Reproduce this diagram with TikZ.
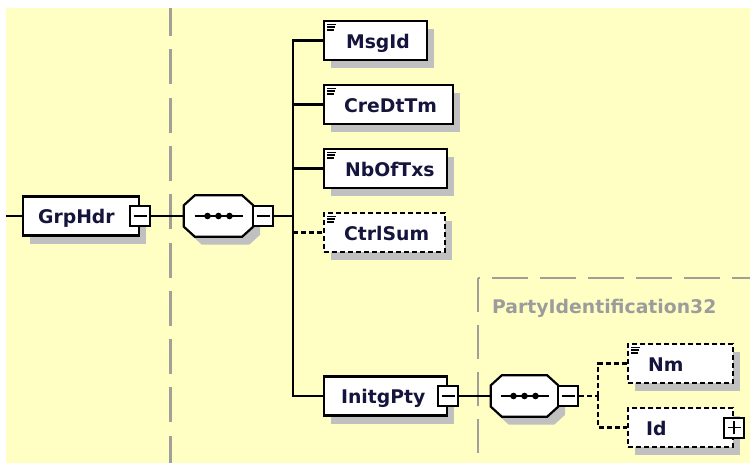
\documentclass[tikz,border=0pt]{standalone}
\usepackage{fontspec}
\setmainfont{DejaVu Sans}
\usetikzlibrary{shadows}
\definecolor{bgyellow}{HTML}{FFFFC4}
\definecolor{shadowgray}{HTML}{C0C0C0}
\definecolor{regiongray}{HTML}{A0A098}
\definecolor{elemtext}{HTML}{14143C}
\definecolor{labelgray}{HTML}{9C9C9C}
\newcommand{\xsdicon}[1]{\draw[line width=1.5pt] ([shift={(4,4.5)}]#1.north west) -- ++(9,0) ([shift={(4,7.3)}]#1.north west) -- ++(8,0) ([shift={(4,10.1)}]#1.north west) -- ++(7,0);}
\newcommand{\octpath}[1]{([shift={(11,0)}]#1.north west) -- ([shift={(-11,0)}]#1.north east) -- ([shift={(0,10)}]#1.north east) -- ([shift={(0,-10)}]#1.south east) -- ([shift={(-11,0)}]#1.south east) -- ([shift={(11,0)}]#1.south west) -- ([shift={(0,-10)}]#1.south west) -- ([shift={(0,10)}]#1.north west) -- cycle}
\newcommand{\seqdraw}[1]{%
  \fill[shadowgray, transform canvas={xshift=7pt, yshift=-8pt}] \octpath{#1};
  \filldraw[fill=white, draw=black, line width=2.2pt, line join=miter] \octpath{#1};
  \draw[line width=2pt] ([xshift=-24pt]#1.center) -- ([xshift=24pt]#1.center);
  \foreach \dx in {-11,0,11} \fill[black] ([xshift=\dx pt]#1.center) circle (3.3pt);}
\begin{document}
\begin{tikzpicture}[x=1pt,y=-1pt,
  every node/.style={font=\fontsize{18.8}{20}\selectfont\bfseries},
  boxshadow/.style={drop shadow={shadow xshift=7pt, shadow yshift=-8pt, fill=shadowgray, opacity=1}},
  elem/.style 2 args={rectangle, draw=black, fill=white, line width=2.2pt, minimum height=39pt, inner ysep=0pt, inner xsep=#2pt, text width=#1pt, align=left, text height=18pt, text depth=3pt, text=elemtext, anchor=west, boxshadow},
  optelem/.style 2 args={elem={#1}{#2}, dash pattern=on 5pt off 3pt},
  seq/.style={rectangle, draw=none, fill=none, minimum width=69pt, minimum height=41pt, inner sep=0pt},
  btn/.style={rectangle, draw=black, fill=white, line width=2pt, minimum width=20pt, minimum height=20pt, inner sep=0pt},
  minusbtn/.style={btn, path picture={\draw[black, line width=1.8pt] ([xshift=-6.5pt]path picture bounding box.center) -- ([xshift=6.5pt]path picture bounding box.center);}},
  plusbtn/.style={btn, path picture={\draw[black, line width=1.8pt] ([xshift=-6.5pt]path picture bounding box.center) -- ([xshift=6.5pt]path picture bounding box.center) ([yshift=-6.5pt]path picture bounding box.center) -- ([yshift=6.5pt]path picture bounding box.center);}},
  conn/.style={draw=black, line width=2.1pt},
  dconn/.style={conn, dash pattern=on 5pt off 3pt},
  regionline/.style={draw=regiongray, line width=2.2pt}
]
\useasboundingbox (0,0) rectangle (750,463);
\fill[white] (0,0) rectangle (750,463);
\fill[bgyellow] (6,8) rectangle (750,463);
% region lines
\draw[regionline, dash pattern=on 35pt off 13.3pt, dash phase=7pt] (170.5,8) -- (170.5,463);
\draw[regionline, dash pattern=on 34pt off 13pt] (478,278) -- (478,463);
\draw[regionline, dash pattern=on 36pt off 12pt, dash phase=34pt] (478,278) -- (750,278);
\node[text=labelgray, anchor=base west, inner sep=0pt] (ptylabel) at (492,313) {PartyIdentification32};
% nodes
\coordinate (in) at (6,216);
\node[elem={86}{15}] (grp) at (22,216) {GrpHdr};
\node[minusbtn] (grpb) at (grp.east) {};
\node[seq] (seq1) at (218.5,216) {};
\seqdraw{seq1}
\node[minusbtn] (seq1b) at ([xshift=10pt]seq1.east) {};
\coordinate (j1) at (293,216);
\node[elem={59}{22}] (msgid) at (323,40.5) {MsgId};
\node[elem={89}{20}] (credttm) at (323,104.5) {CreDtTm};
\node[elem={81}{21}] (nboftxs) at (323,168.5) {NbOfTxs};
\node[optelem={81}{20}] (ctrlsum) at (323,232.5) {CtrlSum};
\node[elem={89}{17}] (initgpty) at (323,396) {InitgPty};
\node[minusbtn] (initb) at (initgpty.east) {};
\node[seq, minimum width=67pt] (seq2) at (524.5,396) {};
\seqdraw{seq2}
\node[minusbtn] (seq2b) at ([xshift=10pt]seq2.east) {};
\coordinate (j2) at (598,396);
\node[optelem={65}{20}] (nm) at (627,363.5) {Nm};
\node[optelem={69}{18}] (id) at (627,427.5) {Id};
\node[plusbtn] (idb) at (id.east) {};
% icons
\xsdicon{msgid}
\xsdicon{credttm}
\xsdicon{nboftxs}
\xsdicon{ctrlsum}
\xsdicon{nm}
% connectors
\draw[conn] (in) -- (grp.west);
\draw[conn] (grpb.east) -- (seq1.west);
\draw[conn] (seq1b.east) -- (j1);
\draw[conn] (j1) |- (msgid.west);
\draw[conn] (j1) |- (credttm.west);
\draw[conn] (j1) |- (nboftxs.west);
\draw[conn] (j1) |- (initgpty.west);
\draw[dconn] (j1 |- ctrlsum.west) -- (ctrlsum.west);
\draw[conn] (initb.east) -- (seq2.west);
\draw[dconn] (seq2b.east) -- (j2);
\draw[dconn] (j2) |- (nm.west);
\draw[dconn] (j2) |- (id.west);
\end{tikzpicture}
\end{document}
